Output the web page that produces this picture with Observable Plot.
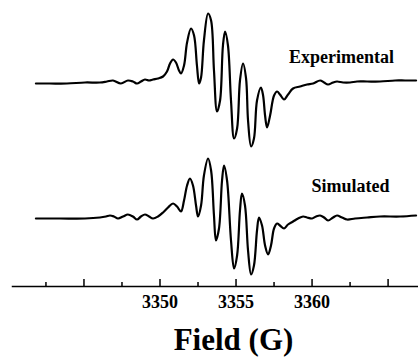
<!DOCTYPE html>
<html><head><meta charset="utf-8">
<script src="https://cdn.jsdelivr.net/npm/d3@7"></script>
<script src="https://cdn.jsdelivr.net/npm/@observablehq/plot@0.6"></script>
<style>
body{margin:0;background:#fff;overflow:hidden;}
#chart{width:418px;height:316px;}
#xlabel{width:418px;box-sizing:border-box;padding-left:49px;margin-top:7px;text-align:center;font-family:"Liberation Serif",serif;font-weight:bold;font-size:31px;line-height:34px;color:#000;}
</style></head><body>
<div id="chart"></div>
<div id="xlabel">Field (G)</div>
<script>
// Magnetic field (G) and first-derivative EPR signal (a.u.)
const expField = [3341.84,3342.76,3343.88,3345.07,3346.05,3346.51,3346.91,3347.43,3347.89,3348.22,3348.49,3348.75,3349.01,3349.28,3349.54,3349.87,3350.20,3350.46,3350.66,3350.86,3351.05,3351.25,3351.38,3351.58,3351.78,3352.04,3352.24,3352.43,3352.57,3352.70,3352.89,3353.16,3353.36,3353.55,3353.75,3353.95,3354.14,3354.28,3354.47,3354.67,3354.87,3355.07,3355.26,3355.46,3355.66,3355.79,3355.99,3356.18,3356.38,3356.64,3356.78,3356.91,3357.04,3357.24,3357.50,3357.70,3357.89,3358.16,3358.42,3358.75,3359.21,3359.67,3360.07,3360.53,3360.79,3361.05,3361.38,3361.64,3362.04,3362.50,3362.96,3363.62,3364.47,3365.46,3366.12,3366.84];
const expSignal = [-1,-1,-1,0,0,1,2,-1,2,1,-1,1,3,2,3,4,6,11,19,23,20,12,9,17,40,54,47,17,-1,5,42,69,62,12,-29,-18,37,51,37,-18,-56,-46,2,19,4,-38,-64,-56,-18,-5,-13,-33,-45,-33,-13,-9,-12,-17,-12,-6,-4,-2,-1,2,0,-2,0,1,0,0,1,1,1,2,2,2];
const simField = [3341.84,3343.42,3345.07,3346.05,3346.45,3346.71,3346.97,3347.24,3347.57,3347.89,3348.22,3348.49,3348.75,3349.01,3349.28,3349.54,3349.87,3350.20,3350.53,3350.86,3351.12,3351.38,3351.58,3351.78,3351.97,3352.17,3352.37,3352.50,3352.70,3352.89,3353.16,3353.36,3353.55,3353.68,3353.88,3354.08,3354.21,3354.41,3354.67,3354.87,3355.07,3355.26,3355.39,3355.59,3355.79,3355.99,3356.18,3356.38,3356.51,3356.71,3356.91,3357.11,3357.30,3357.50,3357.70,3357.89,3358.16,3358.42,3358.75,3359.08,3359.41,3359.67,3360.00,3360.26,3360.53,3360.79,3361.05,3361.38,3361.64,3361.97,3362.30,3362.83,3363.62,3364.47,3365.79,3366.84];
const simSignal = [0,0,0,1,2,3,2,0,2,4,2,-1,2,4,2,0,2,6,11,15,12,7,18,33,40,33,13,2,13,43,60,48,3,-22,-10,38,53,38,-22,-50,-37,8,25,13,-32,-56,-47,-12,1,-7,-27,-36,-27,-10,-5,-7,-10,-6,-3,0,2,1,0,2,3,1,-2,1,3,1,-1,0,1,2,2,3];

const traceNames = ["Experimental", "Simulated"];
const majorTicks = [3345, 3350, 3355, 3360, 3365];
const minorTicks = [3342.5, 3347.5, 3352.5, 3357.5, 3362.5];
const tickLabels = [3350, 3355, 3360];
const labelField = [3361.94, 3362.53];
const labelSignal = [25, 32];

const rows = [
  ...expField.map((f, i) => ({trace: traceNames[0], field: f, signal: expSignal[i]})),
  ...simField.map((f, i) => ({trace: traceNames[1], field: f, signal: simSignal[i]}))
];
const labels = traceNames.map((t, i) => ({trace: t, field: labelField[i], signal: labelSignal[i]}));

const chart = Plot.plot({
  width: 418,
  height: 316,
  marginTop: 14,
  marginBottom: 30,
  marginLeft: 12,
  marginRight: 0,
  style: {fontFamily: "'Liberation Serif', serif", fontWeight: "bold", fontSize: "18px", color: "#000", background: "#fff"},
  x: {domain: [3340.3, 3367]},
  y: {domain: [-68, 68], axis: null},
  fy: {domain: traceNames, padding: 0, axis: null},
  marks: [
    Plot.frame({anchor: "bottom", facetAnchor: "bottom", stroke: "#000", strokeWidth: 1.5}),
    Plot.axisX(majorTicks, {anchor: "bottom", tickSize: -7, tickFormat: () => "", strokeWidth: 1.5, label: null}),
    Plot.axisX(minorTicks, {anchor: "bottom", tickSize: -4, tickFormat: () => "", strokeWidth: 1.5, label: null}),
    Plot.axisX(tickLabels, {anchor: "bottom", tickSize: 0, tickPadding: 9, tickFormat: d => String(d), label: null}),
    Plot.line(rows, {x: "field", y: "signal", fy: "trace", curve: "catmull-rom", stroke: "#000", strokeWidth: 2.2}),
    Plot.text(labels, {x: "field", y: "signal", fy: "trace", text: "trace", textAnchor: "middle", lineAnchor: "middle", fill: "#000"})
  ]
});
document.getElementById("chart").append(chart);
</script>
</body></html>
